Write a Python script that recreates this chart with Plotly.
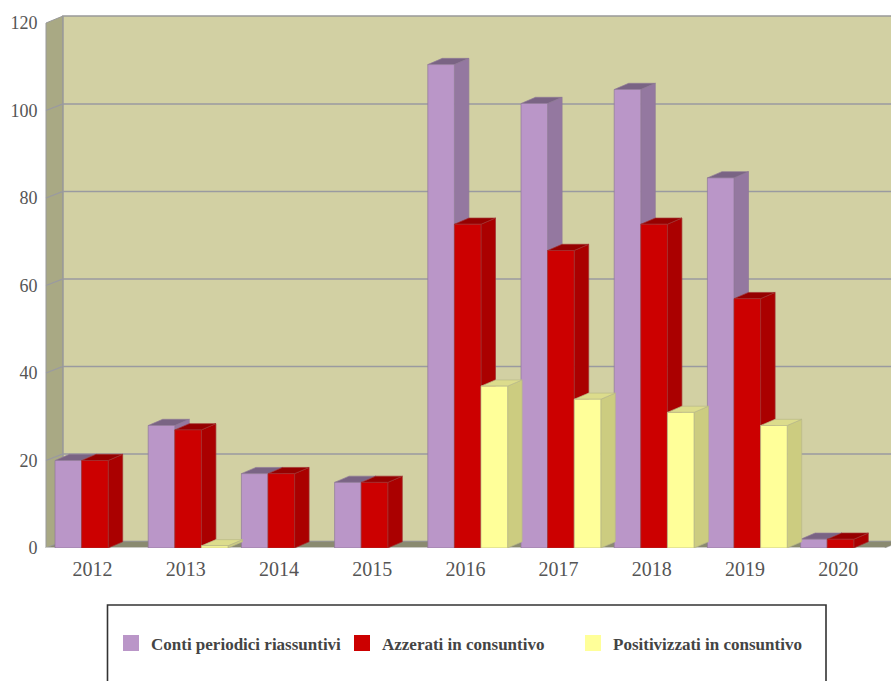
import plotly.graph_objects as go

years = ["2012", "2013", "2014", "2015", "2016", "2017", "2018", "2019", "2020"]
conti = [20, 28, 17, 15, 110.5, 101.6, 104.8, 84.6, 2]
azzerati = [20, 27, 17, 15, 74, 68, 74, 57, 2]
positivizzati = [None, 0.5, None, None, 37, 34, 31, 28, None]
y_ticks = [0, 20, 40, 60, 80, 100, 120]

names = ["Conti periodici riassuntivi", "Azzerati in consuntivo", "Positivizzati in consuntivo"]
series = [conti, azzerati, positivizzati]
front = ["#BA96C8", "#CC0000", "#FFFF99"]
side = ["#9478A0", "#AA0000", "#CCCC80"]
top = ["#7A6484", "#960000", "#DCDC8C"]
edge = ["#8F7A98", "#A03030", "#B8B88A"]

# axis geometry, in data units
CAT_PX = 93.2
UNIT_PX = 4.375
DX = 17 / CAT_PX
DY = 6.6 / UNIT_PX
BAR_DX = 14.5 / CAT_PX
BAR_DY = 6.2 / UNIT_PX
BAR_W = 26.6 / CAT_PX
BAR_OFF = 9 / CAT_PX
L, T, B = 44, 14, 133
W, H = 891, 681
X0 = -(46 - L) / CAT_PX
X1 = X0 + (W - L) / CAT_PX
Y1 = (548 - T) / UNIT_PX
N = len(years)


def px(x):
    return (x - L) / (W - L)


def py(y):
    return (H - B - y) / (H - B - T)


fig = go.Figure()
WALL, SIDEWALL, FLOOR, GRID = "#D2D0A3", "#A9A984", "#8A8A70", "#9A9AA0"
WALL_TOP = (548 - 16) / UNIT_PX
shapes = [
    dict(type="path", layer="below", path=f"M 0 0 L {DX} {DY} L {DX} {WALL_TOP} L 0 {120} Z",
         fillcolor=SIDEWALL, line=dict(color="#999999", width=1)),
    dict(type="rect", layer="below", x0=DX, x1=N + DX, y0=DY, y1=WALL_TOP,
         fillcolor=WALL, line=dict(color="#999999", width=1.5)),
    dict(type="path", layer="below", path=f"M 0 0 L {DX} {DY} L {N + DX} {DY} L {N} 0 Z",
         fillcolor=FLOOR, line=dict(color="#999999", width=0.5)),
    dict(type="line", layer="below", x0=0, x1=N, y0=0, y1=0, line=dict(color="#DDDDDD", width=1.5)),
]
for v in y_ticks[1:-1]:
    shapes.append(dict(type="line", layer="below", x0=DX, x1=N + DX, y0=v + DY, y1=v + DY,
                       line=dict(color=GRID, width=1.5)))
for v in y_ticks[1:-1]:
    shapes.append(dict(type="line", layer="below", x0=0, x1=DX, y0=v, y1=v + DY,
                       line=dict(color=GRID, width=1.2)))

for s, (vals, name) in enumerate(zip(series, names)):
    bx, by = [], []
    sx, sy, tx, ty = [], [], [], []
    for i, v in enumerate(vals):
        if v is None:
            continue
        x0 = i + BAR_OFF + s * BAR_W
        x1 = x0 + BAR_W
        bx.append(x0 + BAR_W / 2)
        by.append(v)
        sx += [x1, x1 + BAR_DX, x1 + BAR_DX, x1, x1, None]
        sy += [0, BAR_DY, v + BAR_DY, v, 0, None]
        tx += [x0, x0 + BAR_DX, x1 + BAR_DX, x1, x0, None]
        ty += [v, v + BAR_DY, v + BAR_DY, v, v, None]
    z = 2 * s + 1
    fig.add_trace(go.Scatter(x=sx, y=sy, fill="toself", mode="lines", fillcolor=side[s],
                             line=dict(color=edge[s], width=0.7), showlegend=False,
                             hoverinfo="skip", zorder=z))
    fig.add_trace(go.Scatter(x=tx, y=ty, fill="toself", mode="lines", fillcolor=top[s],
                             line=dict(color=edge[s], width=0.7), showlegend=False,
                             hoverinfo="skip", zorder=z))
    fig.add_trace(go.Bar(x=bx, y=by, width=BAR_W, marker=dict(color=front[s], line=dict(color=edge[s], width=0.7)),
                         name=name, showlegend=False, zorder=z + 1))
    fig.add_trace(go.Scatter(x=[None], y=[None], mode="markers", name=name,
                             marker=dict(symbol="square", size=16, color=front[s])))

shapes.append(dict(type="rect", xref="paper", yref="paper", x0=px(107.5), x1=px(826),
                   y0=py(720), y1=py(605), line=dict(color="#333333", width=1.6),
                   fillcolor="rgba(0,0,0,0)"))

fig.update_layout(
    width=W, height=H,
    margin=dict(l=L, r=0, t=T, b=B, autoexpand=False),
    paper_bgcolor="white", plot_bgcolor="white",
    barmode="overlay", showlegend=True, shapes=shapes,
    font=dict(family="Liberation Serif", color="#555555"),
    xaxis=dict(range=[X0, X1], tickmode="array", tickvals=[i + 0.5 for i in range(N)],
               ticktext=years, showgrid=False, zeroline=False, showline=False,
               ticks="outside", ticklen=3, tickcolor="white", tickfont=dict(size=20)),
    yaxis=dict(range=[0, Y1], tickmode="array", tickvals=y_ticks, showgrid=False,
               zeroline=False, showline=False, ticks="outside", ticklen=2,
               tickcolor="white", tickfont=dict(size=18)),
    legend=dict(orientation="h", x=px(111), y=py(625.5), xanchor="left", yanchor="top",
                bgcolor="rgba(0,0,0,0)", borderwidth=0, entrywidth=186, entrywidthmode="pixels",
                font=dict(size=17, family="Liberation Serif", color="#444444", weight="bold"),
                itemclick=False, itemdoubleclick=False),
)

fig.write_html("out.html", config=dict(displayModeBar=False),
               post_script="document.body.style.margin='0';document.body.style.overflow='hidden';")
